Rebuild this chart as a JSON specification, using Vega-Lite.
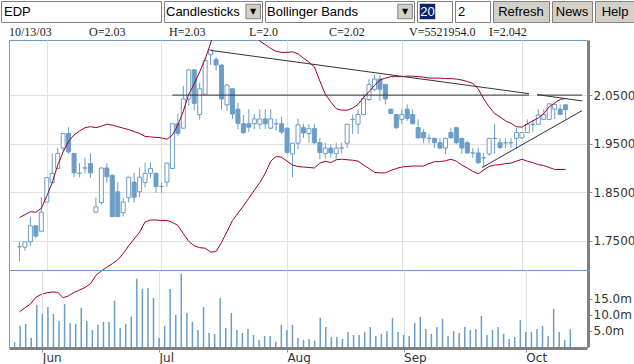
{
 "$schema": "https://vega.github.io/schema/vega-lite/v6.json",
 "padding": 0,
 "background": "white",
 "spacing": 0,
 "config": {
  "view": {"stroke": null},
  "concat": {"spacing": 0},
  "axis": {"labelFont": "DejaVu Sans", "labelFontSize": 12, "labelColor": "#333333", "title": null}
 },
 "datasets": {
  "px": [
{"d":"2003-05-26","i":0,"o":1.738,"h":1.749,"l":1.708,"c":1.738,"v":1560000,"ub":1.798,"lb":1.604},
{"d":"2003-05-27","i":1,"o":1.737,"h":1.749,"l":1.730,"c":1.748,"v":6560000,"ub":1.804,"lb":1.612},
{"d":"2003-05-28","i":2,"o":1.748,"h":1.799,"l":1.739,"c":1.781,"v":7190000,"ub":1.810,"lb":1.620},
{"d":"2003-05-29","i":3,"o":1.781,"h":1.781,"l":1.756,"c":1.760,"v":2810000,"ub":1.809,"lb":1.634},
{"d":"2003-05-30","i":4,"o":1.770,"h":1.840,"l":1.768,"c":1.809,"v":13100000,"ub":1.817,"lb":1.640},
{"d":"2003-06-02","i":5,"o":1.830,"h":1.881,"l":1.829,"c":1.880,"v":10300000,"ub":1.842,"lb":1.643},
{"d":"2003-06-03","i":6,"o":1.870,"h":1.930,"l":1.868,"c":1.889,"v":12500000,"ub":1.870,"lb":1.645},
{"d":"2003-06-04","i":7,"o":1.899,"h":1.942,"l":1.898,"c":1.930,"v":10300000,"ub":1.906,"lb":1.644},
{"d":"2003-06-05","i":8,"o":1.941,"h":1.972,"l":1.935,"c":1.971,"v":8100000,"ub":1.933,"lb":1.633},
{"d":"2003-06-06","i":9,"o":1.971,"h":1.984,"l":1.929,"c":1.933,"v":13400000,"ub":1.955,"lb":1.637},
{"d":"2003-06-09","i":10,"o":1.930,"h":1.931,"l":1.881,"c":1.890,"v":7500000,"ub":1.968,"lb":1.644},
{"d":"2003-06-10","i":11,"o":1.889,"h":1.910,"l":1.881,"c":1.889,"v":7200000,"ub":1.976,"lb":1.649},
{"d":"2003-06-11","i":12,"o":1.900,"h":1.921,"l":1.889,"c":1.900,"v":12200000,"ub":1.983,"lb":1.654},
{"d":"2003-06-12","i":13,"o":1.909,"h":1.930,"l":1.880,"c":1.890,"v":8100000,"ub":1.985,"lb":1.662},
{"d":"2003-06-13","i":14,"o":1.809,"h":1.839,"l":1.808,"c":1.820,"v":5300000,"ub":1.983,"lb":1.679},
{"d":"2003-06-16","i":15,"o":1.829,"h":1.901,"l":1.824,"c":1.900,"v":6900000,"ub":1.986,"lb":1.688},
{"d":"2003-06-17","i":16,"o":1.900,"h":1.910,"l":1.870,"c":1.882,"v":7800000,"ub":1.990,"lb":1.696},
{"d":"2003-06-18","i":17,"o":1.885,"h":1.887,"l":1.799,"c":1.800,"v":7800000,"ub":1.988,"lb":1.703},
{"d":"2003-06-19","i":18,"o":1.851,"h":1.871,"l":1.799,"c":1.800,"v":14400000,"ub":1.985,"lb":1.711},
{"d":"2003-06-20","i":19,"o":1.808,"h":1.839,"l":1.800,"c":1.830,"v":5900000,"ub":1.982,"lb":1.724},
{"d":"2003-06-23","i":20,"o":1.839,"h":1.882,"l":1.829,"c":1.881,"v":7200000,"ub":1.979,"lb":1.740},
{"d":"2003-06-24","i":21,"o":1.871,"h":1.890,"l":1.829,"c":1.840,"v":9400000,"ub":1.975,"lb":1.754},
{"d":"2003-06-25","i":22,"o":1.851,"h":1.901,"l":1.840,"c":1.881,"v":21250000,"ub":1.971,"lb":1.768},
{"d":"2003-06-26","i":23,"o":1.870,"h":1.911,"l":1.860,"c":1.889,"v":18100000,"ub":1.965,"lb":1.789},
{"d":"2003-06-27","i":24,"o":1.889,"h":1.911,"l":1.880,"c":1.899,"v":18400000,"ub":1.964,"lb":1.793},
{"d":"2003-06-30","i":25,"o":1.889,"h":1.890,"l":1.849,"c":1.862,"v":15300000,"ub":1.963,"lb":1.793},
{"d":"2003-07-01","i":26,"o":1.862,"h":1.870,"l":1.849,"c":1.862,"v":2800000,"ub":1.962,"lb":1.792},
{"d":"2003-07-02","i":27,"o":1.871,"h":1.911,"l":1.861,"c":1.910,"v":6600000,"ub":1.959,"lb":1.792},
{"d":"2003-07-03","i":28,"o":1.899,"h":1.992,"l":1.898,"c":1.991,"v":18100000,"ub":1.968,"lb":1.788},
{"d":"2003-07-04","i":29,"o":1.991,"h":2.011,"l":1.966,"c":1.971,"v":10000000,"ub":1.988,"lb":1.782},
{"d":"2003-07-07","i":30,"o":1.982,"h":2.069,"l":1.980,"c":2.042,"v":22800000,"ub":2.017,"lb":1.765},
{"d":"2003-07-08","i":31,"o":2.042,"h":2.103,"l":2.028,"c":2.102,"v":10600000,"ub":2.052,"lb":1.749},
{"d":"2003-07-09","i":32,"o":2.102,"h":2.104,"l":2.019,"c":2.033,"v":7800000,"ub":2.073,"lb":1.740},
{"d":"2003-07-10","i":33,"o":2.010,"h":2.076,"l":2.000,"c":2.063,"v":5300000,"ub":2.098,"lb":1.736},
{"d":"2003-07-11","i":34,"o":2.052,"h":2.128,"l":2.052,"c":2.121,"v":12500000,"ub":2.124,"lb":1.735},
{"d":"2003-07-14","i":35,"o":2.133,"h":2.144,"l":2.112,"c":2.143,"v":4400000,"ub":2.157,"lb":1.727},
{"d":"2003-07-15","i":36,"o":2.123,"h":2.128,"l":2.100,"c":2.112,"v":4100000,"ub":2.192,"lb":1.728},
{"d":"2003-07-16","i":37,"o":2.112,"h":2.113,"l":2.020,"c":2.042,"v":15300000,"ub":2.213,"lb":1.747},
{"d":"2003-07-17","i":38,"o":2.030,"h":2.072,"l":2.017,"c":2.071,"v":5900000,"ub":2.227,"lb":1.769},
{"d":"2003-07-18","i":39,"o":2.063,"h":2.064,"l":2.001,"c":2.011,"v":10600000,"ub":2.233,"lb":1.792},
{"d":"2003-07-21","i":40,"o":2.021,"h":2.034,"l":1.980,"c":1.992,"v":5300000,"ub":2.227,"lb":1.807},
{"d":"2003-07-22","i":41,"o":1.991,"h":2.009,"l":1.970,"c":1.973,"v":4400000,"ub":2.213,"lb":1.822},
{"d":"2003-07-23","i":42,"o":1.991,"h":2.021,"l":1.974,"c":1.984,"v":5600000,"ub":2.192,"lb":1.838},
{"d":"2003-07-24","i":43,"o":1.991,"h":2.011,"l":1.980,"c":2.001,"v":3750000,"ub":2.176,"lb":1.854},
{"d":"2003-07-25","i":44,"o":1.990,"h":2.021,"l":1.980,"c":2.001,"v":2200000,"ub":2.161,"lb":1.870},
{"d":"2003-07-28","i":45,"o":2.001,"h":2.021,"l":1.980,"c":1.991,"v":3400000,"ub":2.154,"lb":1.889},
{"d":"2003-07-29","i":46,"o":1.982,"h":2.021,"l":1.980,"c":2.001,"v":3400000,"ub":2.146,"lb":1.914},
{"d":"2003-07-30","i":47,"o":1.991,"h":2.001,"l":1.977,"c":1.991,"v":1600000,"ub":2.140,"lb":1.924},
{"d":"2003-07-31","i":48,"o":1.991,"h":2.005,"l":1.970,"c":1.974,"v":6900000,"ub":2.138,"lb":1.922},
{"d":"2003-08-01","i":49,"o":1.982,"h":1.983,"l":1.929,"c":1.932,"v":5300000,"ub":2.138,"lb":1.914},
{"d":"2003-08-04","i":50,"o":1.929,"h":1.952,"l":1.881,"c":1.951,"v":6900000,"ub":2.139,"lb":1.906},
{"d":"2003-08-05","i":51,"o":1.951,"h":2.001,"l":1.939,"c":1.989,"v":2800000,"ub":2.135,"lb":1.903},
{"d":"2003-08-06","i":52,"o":1.983,"h":1.991,"l":1.962,"c":1.972,"v":2200000,"ub":2.126,"lb":1.902},
{"d":"2003-08-07","i":53,"o":1.971,"h":1.990,"l":1.952,"c":1.981,"v":2500000,"ub":2.118,"lb":1.901},
{"d":"2003-08-08","i":54,"o":1.981,"h":1.990,"l":1.949,"c":1.952,"v":1900000,"ub":2.108,"lb":1.900},
{"d":"2003-08-11","i":55,"o":1.952,"h":1.962,"l":1.918,"c":1.932,"v":9100000,"ub":2.079,"lb":1.910},
{"d":"2003-08-12","i":56,"o":1.930,"h":1.952,"l":1.919,"c":1.941,"v":6250000,"ub":2.052,"lb":1.914},
{"d":"2003-08-13","i":57,"o":1.941,"h":1.949,"l":1.921,"c":1.931,"v":3100000,"ub":2.036,"lb":1.911},
{"d":"2003-08-14","i":58,"o":1.930,"h":1.952,"l":1.919,"c":1.941,"v":3100000,"ub":2.022,"lb":1.917},
{"d":"2003-08-15","i":59,"o":1.941,"h":1.952,"l":1.930,"c":1.941,"v":2500000,"ub":2.019,"lb":1.918},
{"d":"2003-08-18","i":60,"o":1.951,"h":1.991,"l":1.941,"c":1.990,"v":4700000,"ub":2.019,"lb":1.917},
{"d":"2003-08-19","i":61,"o":2.000,"h":2.010,"l":1.970,"c":2.000,"v":3750000,"ub":2.023,"lb":1.916},
{"d":"2003-08-20","i":62,"o":1.990,"h":2.021,"l":1.970,"c":2.010,"v":3750000,"ub":2.031,"lb":1.914},
{"d":"2003-08-21","i":63,"o":2.010,"h":2.052,"l":2.009,"c":2.043,"v":4700000,"ub":2.045,"lb":1.906},
{"d":"2003-08-22","i":64,"o":2.041,"h":2.083,"l":2.038,"c":2.072,"v":6250000,"ub":2.057,"lb":1.899},
{"d":"2003-08-25","i":65,"o":2.062,"h":2.092,"l":2.058,"c":2.083,"v":3400000,"ub":2.070,"lb":1.891},
{"d":"2003-08-26","i":66,"o":2.083,"h":2.091,"l":2.038,"c":2.062,"v":4100000,"ub":2.081,"lb":1.890},
{"d":"2003-08-27","i":67,"o":2.072,"h":2.073,"l":2.031,"c":2.042,"v":5000000,"ub":2.085,"lb":1.890},
{"d":"2003-08-28","i":68,"o":2.021,"h":2.022,"l":2.011,"c":2.012,"v":9100000,"ub":2.088,"lb":1.895},
{"d":"2003-08-29","i":69,"o":2.010,"h":2.011,"l":1.980,"c":1.983,"v":4700000,"ub":2.088,"lb":1.899},
{"d":"2003-09-01","i":70,"o":2.000,"h":2.021,"l":1.990,"c":2.010,"v":3750000,"ub":2.088,"lb":1.902},
{"d":"2003-09-02","i":71,"o":2.021,"h":2.031,"l":1.997,"c":2.002,"v":3400000,"ub":2.089,"lb":1.903},
{"d":"2003-09-03","i":72,"o":2.010,"h":2.021,"l":1.990,"c":1.991,"v":7500000,"ub":2.089,"lb":1.904},
{"d":"2003-09-04","i":73,"o":1.983,"h":2.000,"l":1.960,"c":1.962,"v":9400000,"ub":2.088,"lb":1.904},
{"d":"2003-09-05","i":74,"o":1.973,"h":1.980,"l":1.951,"c":1.962,"v":5600000,"ub":2.087,"lb":1.904},
{"d":"2003-09-08","i":75,"o":1.961,"h":1.970,"l":1.950,"c":1.961,"v":4100000,"ub":2.085,"lb":1.909},
{"d":"2003-09-09","i":76,"o":1.961,"h":1.962,"l":1.941,"c":1.952,"v":6250000,"ub":2.085,"lb":1.913},
{"d":"2003-09-10","i":77,"o":1.952,"h":1.962,"l":1.939,"c":1.941,"v":8750000,"ub":2.085,"lb":1.913},
{"d":"2003-09-11","i":78,"o":1.941,"h":1.962,"l":1.929,"c":1.961,"v":3400000,"ub":2.084,"lb":1.915},
{"d":"2003-09-12","i":79,"o":1.973,"h":1.983,"l":1.960,"c":1.962,"v":5000000,"ub":2.084,"lb":1.918},
{"d":"2003-09-15","i":80,"o":1.983,"h":1.984,"l":1.949,"c":1.952,"v":4400000,"ub":2.083,"lb":1.914},
{"d":"2003-09-16","i":81,"o":1.961,"h":1.962,"l":1.929,"c":1.941,"v":6250000,"ub":2.081,"lb":1.906},
{"d":"2003-09-17","i":82,"o":1.952,"h":1.956,"l":1.929,"c":1.931,"v":5300000,"ub":2.078,"lb":1.900},
{"d":"2003-09-18","i":83,"o":1.931,"h":1.941,"l":1.921,"c":1.931,"v":5600000,"ub":2.074,"lb":1.893},
{"d":"2003-09-19","i":84,"o":1.931,"h":1.942,"l":1.908,"c":1.911,"v":9700000,"ub":2.063,"lb":1.888},
{"d":"2003-09-22","i":85,"o":1.921,"h":1.931,"l":1.901,"c":1.921,"v":3750000,"ub":2.042,"lb":1.896},
{"d":"2003-09-23","i":86,"o":1.929,"h":1.962,"l":1.925,"c":1.961,"v":5300000,"ub":2.026,"lb":1.903},
{"d":"2003-09-24","i":87,"o":1.961,"h":1.991,"l":1.929,"c":1.961,"v":6250000,"ub":2.012,"lb":1.906},
{"d":"2003-09-25","i":88,"o":1.952,"h":1.961,"l":1.939,"c":1.942,"v":4100000,"ub":2.005,"lb":1.907},
{"d":"2003-09-26","i":89,"o":1.952,"h":1.961,"l":1.941,"c":1.952,"v":2500000,"ub":1.997,"lb":1.909},
{"d":"2003-09-29","i":90,"o":1.952,"h":1.961,"l":1.941,"c":1.952,"v":3100000,"ub":1.992,"lb":1.910},
{"d":"2003-09-30","i":91,"o":1.961,"h":1.983,"l":1.939,"c":1.973,"v":8400000,"ub":1.985,"lb":1.914},
{"d":"2003-10-01","i":92,"o":1.962,"h":1.974,"l":1.960,"c":1.973,"v":4700000,"ub":1.984,"lb":1.918},
{"d":"2003-10-02","i":93,"o":1.973,"h":2.000,"l":1.972,"c":1.990,"v":4700000,"ub":1.991,"lb":1.914},
{"d":"2003-10-03","i":94,"o":1.990,"h":2.000,"l":1.973,"c":1.990,"v":5600000,"ub":1.997,"lb":1.911},
{"d":"2003-10-06","i":95,"o":1.990,"h":2.021,"l":1.989,"c":2.009,"v":6600000,"ub":2.003,"lb":1.907},
{"d":"2003-10-07","i":96,"o":2.000,"h":2.021,"l":1.999,"c":2.010,"v":3400000,"ub":2.012,"lb":1.905},
{"d":"2003-10-08","i":97,"o":2.000,"h":2.033,"l":1.999,"c":2.032,"v":11900000,"ub":2.026,"lb":1.901},
{"d":"2003-10-09","i":98,"o":2.021,"h":2.032,"l":2.001,"c":2.031,"v":4700000,"ub":2.034,"lb":1.897},
{"d":"2003-10-10","i":99,"o":2.021,"h":2.031,"l":2.009,"c":2.010,"v":2200000,"ub":2.041,"lb":1.897},
{"d":"2003-10-13","i":100,"o":2.03,"h":2.03,"l":2.00,"c":2.02,"v":5521954,"ub":2.043,"lb":1.897}
  ],
  "hdr": [
   {"s":0,"t":"10/13/03"},{"s":1,"t":"O=2.03"},{"s":2,"t":"H=2.03"},{"s":3,"t":"L=2.0"},
   {"s":4,"t":"C=2.02"},{"s":5,"t":"V=5521954.0"},{"s":6,"t":"I=2.042"}
  ],
  "trend": [
   {"seg":"h1","i":28,"p":2.05},{"seg":"h1","i":93.3,"p":2.05},
   {"seg":"h2","i":94.8,"p":2.05},{"seg":"h2","i":103,"p":2.05},
   {"seg":"d1","i":35,"p":2.142},{"seg":"d1","i":93.3,"p":2.053},
   {"seg":"d2","i":94.8,"p":2.051},{"seg":"d2","i":103,"p":2.038},
   {"seg":"u1","i":84.7,"p":1.901},{"seg":"u1","i":103,"p":2.018}
  ]
 },
 "vconcat": [
  {
   "spacing": 3,
   "bounds": "flush",
   "hconcat": [
    {"width":160,"height":21,"view":{"stroke":"#808080","fill":"white"},"data":{"values":[{"t":"EDP"}]},
     "mark":{"type":"text","align":"left","baseline":"middle","dx":3,"font":"Liberation Sans","fontSize":13,"color":"black"},
     "encoding":{"text":{"field":"t"},"x":{"datum":0,"type":"quantitative","scale":{"domain":[0,1]},"axis":null}}},
    {"width":98,"height":21,"view":{"stroke":"#808080","fill":"white"},"data":{"values":[{"t":"Candlesticks","a":"▼"}]},
     "encoding":{"x":{"datum":0,"type":"quantitative","scale":{"domain":[0,1]},"axis":null}},
     "layer":[
      {"mark":{"type":"text","align":"left","baseline":"middle","dx":2,"font":"Liberation Sans","fontSize":13,"color":"black"},
       "encoding":{"text":{"field":"t"}}},
      {"mark":{"type":"point","shape":"square","filled":true,"size":210,"color":"#d4d0c8","stroke":"#808080","strokeWidth":1,"opacity":1},
       "encoding":{"x":{"datum":0.91,"type":"quantitative"}}},
      {"mark":{"type":"text","baseline":"middle","font":"DejaVu Sans","fontSize":8,"color":"black"},
       "encoding":{"x":{"datum":0.91,"type":"quantitative"},"text":{"field":"a"}}}
     ]},
    {"width":149,"height":21,"view":{"stroke":"#808080","fill":"white"},"data":{"values":[{"t":"Bollinger Bands","a":"▼"}]},
     "encoding":{"x":{"datum":0,"type":"quantitative","scale":{"domain":[0,1]},"axis":null}},
     "layer":[
      {"mark":{"type":"text","align":"left","baseline":"middle","dx":2,"font":"Liberation Sans","fontSize":13,"color":"black"},
       "encoding":{"text":{"field":"t"}}},
      {"mark":{"type":"point","shape":"square","filled":true,"size":210,"color":"#d4d0c8","stroke":"#808080","strokeWidth":1,"opacity":1},
       "encoding":{"x":{"datum":0.94,"type":"quantitative"}}},
      {"mark":{"type":"text","baseline":"middle","font":"DejaVu Sans","fontSize":8,"color":"black"},
       "encoding":{"x":{"datum":0.94,"type":"quantitative"},"text":{"field":"a"}}}
     ]},
    {"width":35,"height":21,"view":{"stroke":"#808080","fill":"white"},"data":{"values":[{"t":"20"}]},
     "encoding":{"x":{"datum":0.3,"type":"quantitative","scale":{"domain":[0,1]},"axis":null}},
     "layer":[
      {"mark":{"type":"point","shape":"square","filled":true,"size":240,"color":"#0a246a","opacity":1}},
      {"mark":{"type":"text","baseline":"middle","font":"Liberation Sans","fontSize":13,"color":"white"},
       "encoding":{"text":{"field":"t"}}}
     ]},
    {"width":35,"height":21,"view":{"stroke":"#808080","fill":"white"},"data":{"values":[{"t":"2"}]},
     "mark":{"type":"text","align":"left","baseline":"middle","dx":3,"font":"Liberation Sans","fontSize":13,"color":"black"},
     "encoding":{"text":{"field":"t"},"x":{"datum":0,"type":"quantitative","scale":{"domain":[0,1]},"axis":null}}},
    {"width":56,"height":21,"view":{"stroke":"#808080","fill":"#d4d0c8"},"data":{"values":[{"t":"Refresh"}]},
     "mark":{"type":"text","baseline":"middle","font":"Liberation Sans","fontSize":13,"color":"black"},
     "encoding":{"text":{"field":"t"}}},
    {"width":40,"height":21,"view":{"stroke":"#808080","fill":"#d4d0c8"},"data":{"values":[{"t":"News"}]},
     "mark":{"type":"text","baseline":"middle","font":"Liberation Sans","fontSize":13,"color":"black"},
     "encoding":{"text":{"field":"t"}}},
    {"width":40,"height":21,"view":{"stroke":"#808080","fill":"#d4d0c8"},"data":{"values":[{"t":"Help"}]},
     "mark":{"type":"text","baseline":"middle","font":"Liberation Sans","fontSize":13,"color":"black"},
     "encoding":{"text":{"field":"t"}}}
   ]
  },
  {
   "spacing": 0,
   "bounds": "flush",
   "hconcat": [
    {"width":8,"height":10,"data":{"values":[{"t":""}]},"mark":{"type":"text"},"encoding":{"text":{"field":"t"}}},
    {
     "spacing": 0,
     "bounds": "flush",
     "vconcat": [
      {"width":578,"height":16,"data":{"name":"hdr"},
       "mark":{"type":"text","align":"left","baseline":"middle","font":"Liberation Serif","fontSize":12,"color":"#222222"},
       "encoding":{"x":{"field":"s","type":"quantitative","scale":{"domain":[0,7.225],"nice":false,"zero":false},"axis":null},"text":{"field":"t"}}},
      {"width":578,"height":230,"view":{"stroke":"#6a9acb","strokeWidth":1},
       "layer":[
        {"data":{"name":"px"},"mark":{"type":"rule","color":"#6b9dc9","strokeWidth":1},
         "encoding":{
          "x":{"field":"i","type":"quantitative","scale":{"domain":[-1,103],"nice":false,"zero":false},
               "axis":{"values":[5,26,49,70,92],"grid":true,"gridColor":"#e0e0e0","labels":false,"ticks":false,"domain":false,"title":null}},
          "y":{"field":"l","type":"quantitative","scale":{"domain":[1.6901,2.1634],"nice":false,"zero":false},
               "axis":{"orient":"right","values":[1.75,1.8,1.85,1.9,1.95,2.0,2.05,2.1],
                       "labelExpr":"abs(datum.value-2.1)<0.001 ? '2.1' : format(datum.value, '.4f')",
                       "grid":true,"gridColor":"#e0e0e0","domainColor":"#808080","domainWidth":3,"offset":1,
                       "tickColor":"#6a9acb","tickSize":4,"labelPadding":1,"title":null}},
          "y2":{"field":"h"}}},
        {"data":{"name":"px"},"mark":{"type":"bar","size":4,"stroke":"#6b9dc9","strokeWidth":1},
         "encoding":{
          "x":{"field":"i","type":"quantitative","title":null},
          "y":{"field":"o","type":"quantitative","title":null},
          "y2":{"field":"c"},
          "fill":{"condition":{"test":"datum.c > datum.o","value":"white"},"value":"#6b9dc9"}}},
        {"data":{"name":"px"},"mark":{"type":"line","color":"#a0002b","strokeWidth":1,"clip":true},
         "encoding":{"x":{"field":"i","type":"quantitative","title":null},"y":{"field":"ub","type":"quantitative","title":null}}},
        {"data":{"name":"px"},"mark":{"type":"line","color":"#a0002b","strokeWidth":1,"clip":false},
         "encoding":{"x":{"field":"i","type":"quantitative","title":null},"y":{"field":"lb","type":"quantitative","title":null}}},
        {"data":{"name":"trend"},"mark":{"type":"line","color":"#333333","strokeWidth":1},
         "encoding":{"x":{"field":"i","type":"quantitative","title":null},"y":{"field":"p","type":"quantitative","title":null},"detail":{"field":"seg"}}}
       ]},
      {"width":578,"height":77,"view":{"stroke":"#6a9acb","strokeWidth":1},
       "data":{"name":"px"},
       "mark":{"type":"rule","color":"#6b9dc9","strokeWidth":1.5},
       "encoding":{
        "x":{"field":"i","type":"quantitative","scale":{"domain":[-1,103],"nice":false,"zero":false},
             "axis":{"values":[5,26,49,70,92],
                     "labelExpr":"datum.value==5?'Jun':datum.value==26?'Jul':datum.value==49?'Aug':datum.value==70?'Sep':'Oct'",
                     "grid":true,"gridColor":"#e0e0e0","domainColor":"#808080","domainWidth":3,"offset":1,
                     "tickColor":"#6a9acb","tickSize":4,"labelAlign":"left","labelPadding":0,"title":null}},
        "y":{"field":"v","type":"quantitative","scale":{"domain":[0,24000000],"nice":false},
             "axis":{"orient":"right","values":[5000000,10000000,15000000],
                     "labelExpr":"format(datum.value/1000000,'.1f')+'m'",
                     "grid":false,"domainColor":"#808080","domainWidth":3,"offset":1,
                     "tickColor":"#6a9acb","tickSize":4,"labelPadding":1,"title":null}},
        "y2":{"datum":0}}}
     ]
    }
   ]
  }
 ]
}
